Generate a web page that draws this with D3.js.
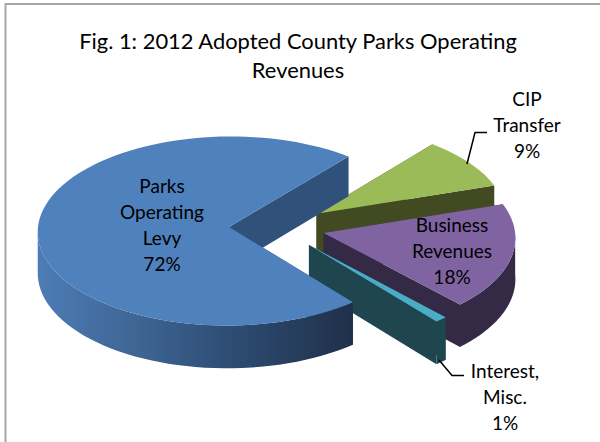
<!DOCTYPE html>
<html><head><meta charset="utf-8">
<script src="https://cdn.jsdelivr.net/npm/d3@7"></script>
<style>html,body{margin:0;padding:0;background:#fff}svg{display:block}text{font-family:Lato,"Open Sans",sans-serif;fill:#000}</style>
</head><body><div id="c"></div>
<script>
const categories=["Parks Operating Levy","CIP Transfer","Business Revenues","Interest, Misc."];
const shares=[72,9,18,1];
const topColors=["#4f81bd","#9bbb59","#8064a2","#4bacc6"];
const wallColors=["#30527a","#414a21","#352a45","#1f464f"];
const labelLines=[["Parks","Operating","Levy","72%"],["CIP","Transfer","9%"],["Business","Revenues","18%"],["Interest,","Misc.","1%"]];
const labelAnchors=[[162,187],[527,100],[452,226],[505,372]];
const leaders=[null,[[467,164],[475,132.5],[487,132.5]],null,[[439,360],[452,375.5],[464,375.5]]];
const titleLines=["Fig. 1: 2012 Adopted County Parks Operating","Revenues"];
const paintOrder=[1,2,3,0];

const W=600,H=442,O={x:277,y:227},R=191,ratio=0.495,persp=0.000224,depth=41,explode=48;
const svg=d3.select("#c").append("svg").attr("width",W).attr("height",H);
const defs=svg.append("defs");
const g=defs.append("linearGradient").attr("id","rim").attr("gradientUnits","userSpaceOnUse")
  .attr("x1",38).attr("x2",354).attr("y1",0).attr("y2",0);
[[0,"#4d7cb6"],[0.3,"#3f6695"],[0.6,"#2e4d74"],[1,"#1f3049"]].forEach(s=>g.append("stop").attr("offset",s[0]).attr("stop-color",s[1]));

svg.append("path").attr("d",`M5.5,${H}V4H${W}`).attr("fill","none").attr("stroke","#a6a6a6").attr("stroke-width",2);

const arcs=d3.pie().sort(null).value(d=>d).startAngle(140.5*Math.PI/180).endAngle((140.5+360)*Math.PI/180)(shares);

// circle-plane coordinates -> screen, with mild perspective
function proj(x,y,z){const p=1+persp*y;return [O.x+x*p,O.y+y*ratio*p+z*p];}
const line=d3.line();
arcs.forEach(a=>{
  const mid=(a.startAngle+a.endAngle)/2;
  a.cx=explode*Math.sin(mid);a.cy=-explode*Math.cos(mid);
  a.angles=d3.range(0,97).map(i=>a.startAngle+(a.endAngle-a.startAngle)*i/96);
  a.ptAt=(t,z)=>proj(a.cx+R*Math.sin(t),a.cy-R*Math.cos(t),z);
});
paintOrder.forEach(i=>{
  const a=arcs[i],gr=svg.append("g"),apex=z=>proj(a.cx,a.cy,z);
  const t0=a.angles[0],t1=a.angles[96];
  const wall=t=>gr.append("path").attr("d",line([apex(0),a.ptAt(t,0),a.ptAt(t,depth),apex(depth)])+"Z").attr("fill",wallColors[i]);
  wall(t0);wall(t1);
  // only the front half of the rim faces the viewer
  const front=a.angles.filter(t=>Math.cos(t)<0);
  if(front.length>1){
    const up=front.map(t=>a.ptAt(t,0)),dn=front.map(t=>a.ptAt(t,depth)).reverse();
    gr.append("path").attr("d",line(up.concat(dn))+"Z").attr("fill",i===0?"url(#rim)":wallColors[i]);
  }
  gr.append("path").attr("d",line([apex(0)].concat(a.angles.map(t=>a.ptAt(t,0))))+"Z").attr("fill",topColors[i]);
});

leaders.forEach(l=>{if(l)svg.append("path").attr("d",line(l)).attr("fill","none").attr("stroke","#000").attr("stroke-width",1.5);});

const t=svg.append("g").attr("font-size",21.9).attr("text-anchor","middle");
titleLines.forEach((s,i)=>t.append("text").attr("x",298).attr("y",49+i*29).text(s));
const lab=svg.append("g").attr("font-size",19).attr("text-anchor","middle");
labelLines.forEach((ls,i)=>ls.forEach((s,j)=>lab.append("text").attr("x",labelAnchors[i][0]).attr("y",labelAnchors[i][1]+6+j*26).text(s)));
</script></body></html>
